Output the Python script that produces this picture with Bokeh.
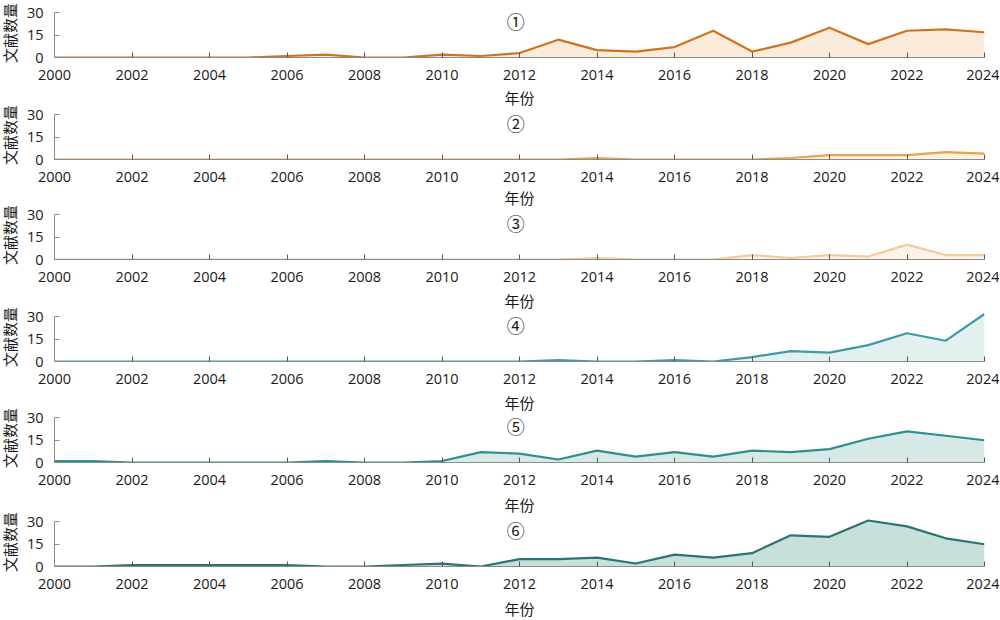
from bokeh.plotting import figure
from bokeh.layouts import column
from bokeh.models import FixedTicker, Range1d, Label
from bokeh.embed import file_html
from bokeh.resources import INLINE

years = list(range(2000, 2025))

s1 = [0, 0, 0, 0, 0, 0, 1, 2, 0, 0, 2, 1, 3, 12, 5, 4, 7, 18, 4, 10, 20, 9, 18, 19, 17]
s2 = [0, 0, 0, 0, 0, 0, 0, 0, 0, 0, 0, 0, 0, 0, 1, 0, 0, 0, 0, 1, 3, 3, 3, 5, 4]
s3 = [0, 0, 0, 0, 0, 0, 0, 0, 0, 0, 0, 0, 0, 0, 1, 0, 0, 0, 3, 1, 3, 2, 10, 3, 3]
s4 = [0, 0, 0, 0, 0, 0, 0, 0, 0, 0, 0, 0, 0, 1, 0, 0, 1, 0, 3, 7, 6, 11, 19, 14, 32]
s5 = [1, 1, 0, 0, 0, 0, 0, 1, 0, 0, 1, 7, 6, 2, 8, 4, 7, 4, 8, 7, 9, 16, 21, 18, 15]
s6 = [0, 0, 1, 1, 1, 1, 1, 0, 0, 1, 2, 0, 5, 5, 6, 2, 8, 6, 9, 21, 20, 31, 27, 19, 15]

series = [s1, s2, s3, s4, s5, s6]
titles = ["①", "②", "③", "④", "⑤", "⑥"]
line_colors = ["#D0731F", "#E9A24E", "#F4CB9A", "#3D9BA6", "#2F8E8E", "#2A7472"]
fill_colors = ["#FBEBDB", "#FEF2E4", "#FEF3E8", "#E2F0F0", "#D6E9E7", "#C7E0DC"]

x_ticks = list(range(2000, 2025, 2))
y_ticks = [0, 15, 30]

# page geometry
tops = [4, 106, 206, 308, 409, 513]
bottoms = [56, 56, 56, 56, 56, 54]
xlabel_standoffs = [4, 2, 5, 5, 6, 6]
TOPB = 4
FRAME_H = 49

figs = []
prev_end = None
for i, (vals, ttl) in enumerate(zip(series, titles)):
    h = TOPB + FRAME_H + bottoms[i]
    p = figure(width=1000, height=h, output_backend="svg", toolbar_location=None,
               x_range=Range1d(2000, 2024), y_range=Range1d(0, 33),
               frame_width=930, frame_height=FRAME_H,
               min_border_left=55, min_border_right=15,
               min_border_top=TOPB, min_border_bottom=bottoms[i])
    p.border_fill_color = None
    p.background_fill_color = None
    p.outline_line_color = None
    p.xgrid.visible = False
    p.ygrid.visible = False

    p.varea(x=years, y1=[0] * len(years), y2=vals, fill_color=fill_colors[i], fill_alpha=1.0)
    p.line(x=years, y=vals, line_color=line_colors[i], line_width=2.2)

    ax = p.xaxis[0]
    ax.ticker = FixedTicker(ticks=x_ticks)
    ax.major_tick_in = 5
    ax.major_tick_out = 0
    ax.minor_tick_in = 0
    ax.minor_tick_out = 0
    ax.axis_line_color = "#8c8c8c"
    ax.major_tick_line_color = "#555555"
    ax.major_label_text_font = "Open Sans"
    ax.major_label_text_font_size = "14.5px"
    ax.major_label_text_color = "#1a1a1a"
    ax.major_label_standoff = 12
    ax.axis_label = "年份"
    ax.axis_label_text_font = "Noto Sans CJK SC"
    ax.axis_label_text_font_size = "15px"
    ax.axis_label_text_font_style = "normal"
    ax.axis_label_text_color = "#1a1a1a"
    ax.axis_label_standoff = xlabel_standoffs[i]

    ay = p.yaxis[0]
    ay.ticker = FixedTicker(ticks=y_ticks)
    ay.bounds = (0, 30)
    ay.major_tick_in = 5
    ay.major_tick_out = 0
    ay.minor_tick_in = 0
    ay.minor_tick_out = 0
    ay.axis_line_color = "#8c8c8c"
    ay.major_tick_line_color = "#8c8c8c"
    ay.major_label_text_font = "Open Sans"
    ay.major_label_text_font_size = "14.5px"
    ay.major_label_text_color = "#1a1a1a"
    ay.major_label_standoff = 11
    ay.axis_label = "文献数量"
    ay.axis_label_text_font = "Noto Sans CJK SC"
    ay.axis_label_text_font_size = "15px"
    ay.axis_label_text_font_style = "normal"
    ay.axis_label_text_color = "#1a1a1a"
    ay.axis_label_standoff = 4

    p.add_layout(Label(x=2011.9, y=24.5, text=ttl, text_align="center",
                       text_baseline="middle", text_font="Noto Sans CJK SC",
                       text_font_size="18px", text_color="#1a1a1a"))

    if prev_end is not None:
        p.margin = (tops[i] - prev_end, 0, 0, 0)
    else:
        p.margin = (0, 0, 0, 0)
    prev_end = tops[i] + h
    figs.append(p)

layout = column(*figs, spacing=0, margin=(tops[0], 0, -8, -5))

open("out.html", "w").write(file_html(layout, INLINE))
